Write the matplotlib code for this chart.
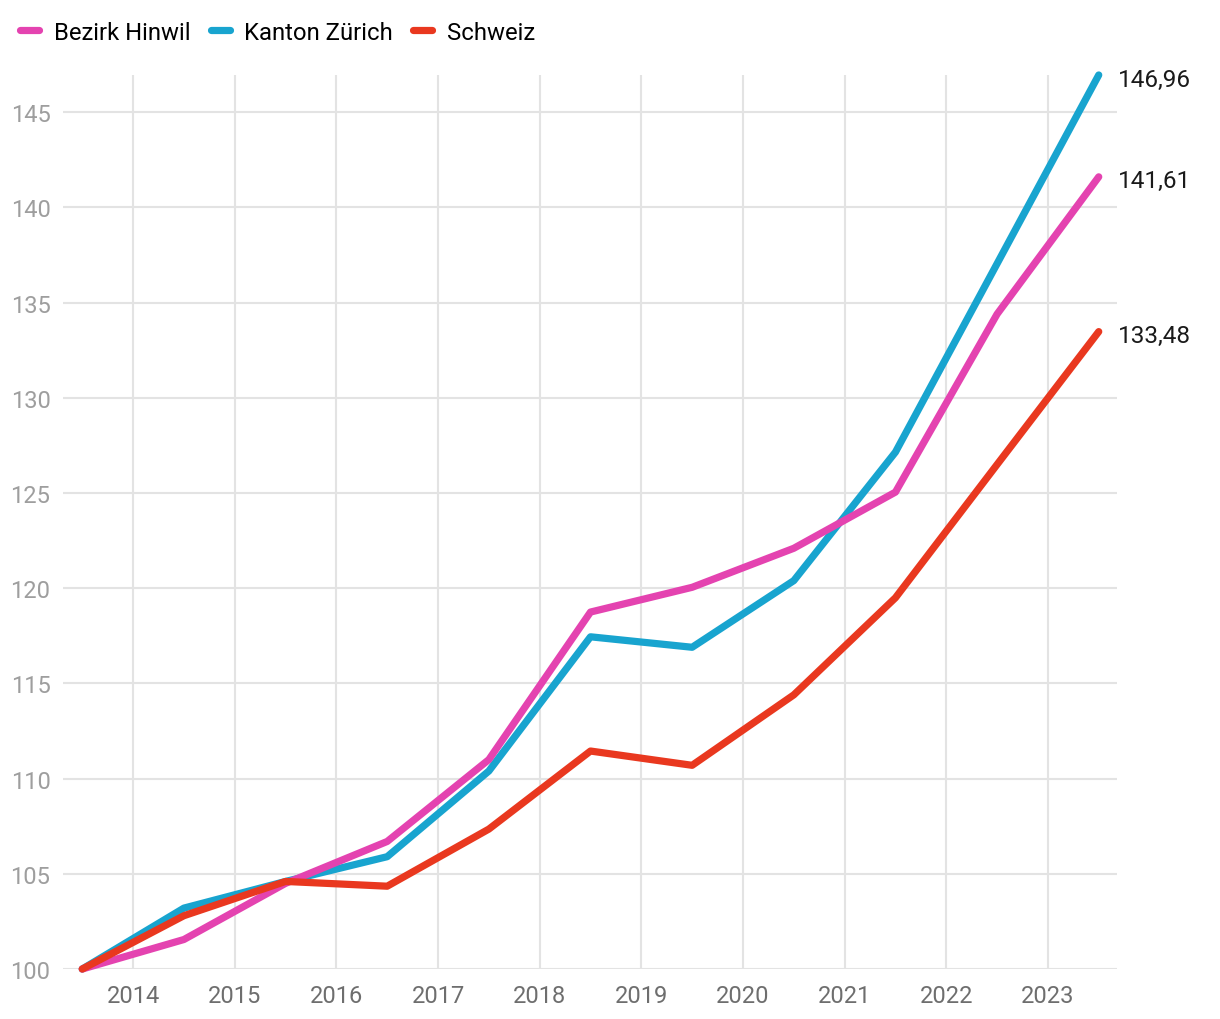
import matplotlib.pyplot as plt
from matplotlib.lines import Line2D

plt.rcParams['font.family'] = ['Roboto', 'DejaVu Sans']

# half-year positions between the year gridlines
x = [2013.5, 2014.5, 2015.5, 2016.5, 2017.5, 2018.5, 2019.5, 2020.5, 2021.5, 2022.5, 2023.5]
hinwil = [100, 101.55, 104.5, 106.7, 111.0, 118.75, 120.05, 122.1, 125.05, 134.4, 141.61]
zuerich = [100, 103.2, 104.6, 105.9, 110.4, 117.45, 116.9, 120.4, 127.15, 137.05, 146.96]
schweiz = [100, 102.8, 104.6, 104.35, 107.35, 111.45, 110.7, 114.4, 119.5, 126.5, 133.48]
end_labels = ['141,61', '146,96', '133,48']

years = list(range(2014, 2024))
yticks = list(range(100, 150, 5))

c_pink = '#e443b0'
c_blue = '#18a4cf'
c_red = '#e9381f'

fig = plt.figure(figsize=(12.2, 10.2), dpi=100)
ax = fig.add_axes([0.0516, 0.049, 0.864, 0.8765])

lw = 5.2
ax.plot(x, zuerich, color=c_blue, lw=lw, solid_capstyle='round', solid_joinstyle='round', clip_on=False, zorder=3)
ax.plot(x, hinwil, color=c_pink, lw=lw, solid_capstyle='round', solid_joinstyle='round', clip_on=False, zorder=4)
ax.plot(x, schweiz, color=c_red, lw=lw, solid_capstyle='round', solid_joinstyle='round', clip_on=False, zorder=5)

for series, lab in zip([hinwil, zuerich, schweiz], end_labels):
    ax.annotate(lab, xy=(x[-1], series[-1]), xytext=(19, -4), textcoords='offset pixels',
                ha='left', va='center', fontsize=17.5, color='#1a1a1a', annotation_clip=False)

ax.set_xlim(2013.31, 2023.68)
ax.set_ylim(100, 146.96)
ax.set_xticks(years)
ax.set_xticklabels([str(y) for y in years])
ax.set_yticks(yticks)
ax.tick_params(axis='both', length=0, labelsize=17)
ax.tick_params(axis='y', pad=9, labelcolor='#9e9e9e')
ax.tick_params(axis='x', pad=11, labelcolor='#6e6e6e')
ax.grid(True, color='#e3e3e3', lw=1.5)
ax.set_axisbelow(True)
for s in ax.spines.values():
    s.set_visible(False)

handles = [Line2D([], [], color=c, lw=lw, solid_capstyle='round') for c in (c_pink, c_blue, c_red)]
fig.legend(handles, ['Bezirk Hinwil', 'Kanton Zürich', 'Schweiz'], loc='upper left',
           bbox_to_anchor=(-0.001, 1.0), ncol=3, frameon=False, fontsize=17.2,
           handlelength=0.8, handletextpad=0.6, columnspacing=0.85, borderaxespad=0.5)

fig.savefig('out.png', dpi=100)
